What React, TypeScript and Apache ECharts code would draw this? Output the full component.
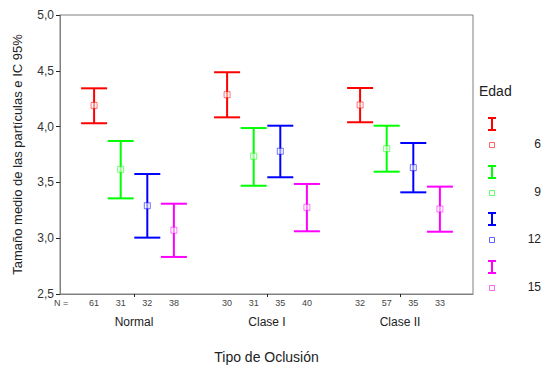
import React, { useEffect, useRef } from "react";
import * as echarts from "echarts";

const categories = ["Normal", "Clase I", "Clase II"];
const ages = ["6", "9", "12", "15"];
const colors = ["#ff0000", "#00ff00", "#0000ff", "#ff00ff"];
const offsets = [-0.3, -0.1, 0.1, 0.3];

// per age: values for [Normal, Clase I, Clase II]
const lower = [
  [4.03, 4.083, 4.039],
  [3.357, 3.47, 3.596],
  [3.005, 3.546, 3.411],
  [2.832, 3.062, 3.058],
];
const upper = [
  [4.343, 4.487, 4.346],
  [3.871, 3.987, 4.008],
  [3.575, 4.008, 3.853],
  [3.309, 3.486, 3.462],
];
const means = [
  [4.19, 4.286, 4.194],
  [3.617, 3.734, 3.802],
  [3.291, 3.779, 3.632],
  [3.071, 3.277, 3.262],
];
const counts = [
  [61, 30, 32],
  [31, 31, 57],
  [32, 35, 35],
  [38, 40, 33],
];

const FONT = "Liberation Sans, Arial, sans-serif";

export default function App() {
  const ref = useRef<HTMLDivElement>(null);
  useEffect(() => {
    if (!ref.current) return;
    const chart = echarts.init(ref.current, undefined, { renderer: "svg" });

    const series = ages.map((age, ai) => ({
      type: "custom",
      name: age,
      clip: false,
      data: categories.map((_, ci) => [
        ci + 1 + offsets[ai],
        lower[ai][ci],
        upper[ai][ci],
        means[ai][ci],
        counts[ai][ci],
      ]),
      renderItem: (params: any, api: any) => {
        const x = api.value(0);
        const pTop = api.coord([x, api.value(2)]);
        const pBot = api.coord([x, api.value(1)]);
        const pM = api.coord([x, api.value(3)]);
        const yBase = api.coord([x, 2.5])[1];
        const c = colors[ai];
        const hw = 13;
        return {
          type: "group",
          children: [
            { type: "line", shape: { x1: pTop[0], y1: pTop[1], x2: pBot[0], y2: pBot[1] }, style: { stroke: c, lineWidth: 2 } },
            { type: "line", shape: { x1: pTop[0] - hw, y1: pTop[1], x2: pTop[0] + hw, y2: pTop[1] }, style: { stroke: c, lineWidth: 2 } },
            { type: "line", shape: { x1: pBot[0] - hw, y1: pBot[1], x2: pBot[0] + hw, y2: pBot[1] }, style: { stroke: c, lineWidth: 2 } },
            { type: "rect", shape: { x: pM[0] - 3, y: pM[1] - 3, width: 6, height: 6 }, style: { fill: "#ffffff", stroke: c, lineWidth: 1, opacity: 0.55 } },
            { type: "text", x: pTop[0], y: yBase + 8.5, style: { text: String(api.value(4)), align: "center", verticalAlign: "middle", fontSize: 9, fill: "#444", fontFamily: FONT } },
          ],
        };
      },
    }));

    const legendTop = [118, 166, 213, 261];
    const legendGraphics: any[] = [
      { type: "text", left: 479, top: 84, style: { text: "Edad", fontSize: 14, fill: "#222", fontFamily: FONT } },
    ];
    ages.forEach((age, i) => {
      const y = legendTop[i];
      const c = colors[i];
      legendGraphics.push(
        { type: "line", shape: { x1: 492, y1: y, x2: 492, y2: y + 12 }, style: { stroke: c, lineWidth: 2 } },
        { type: "line", shape: { x1: 488, y1: y, x2: 496, y2: y }, style: { stroke: c, lineWidth: 2 } },
        { type: "line", shape: { x1: 488, y1: y + 12, x2: 496, y2: y + 12 }, style: { stroke: c, lineWidth: 2 } },
        { type: "rect", shape: { x: 489.5, y: y + 24.5, width: 5, height: 5 }, style: { fill: "#fff", stroke: c, lineWidth: 1, opacity: 0.6 } },
        { type: "text", x: 541, y: y + 26, style: { text: age, align: "right", verticalAlign: "middle", fontSize: 12, fill: "#222", fontFamily: FONT } }
      );
    });
    legendGraphics.push({ type: "text", x: 61, y: 302.5, style: { text: "N =", align: "center", verticalAlign: "middle", fontSize: 9, fill: "#444", fontFamily: FONT } });

    chart.setOption({
      animation: false,
      textStyle: { fontFamily: FONT },
      grid: { left: 60, top: 15, right: 71, bottom: 72, show: true, borderColor: "#808080", borderWidth: 1, outerBoundsMode: "none", containLabel: false },
      xAxis: {
        type: "value",
        min: 1 - 74 / 133,
        max: 3 + 73 / 133,
        name: "Tipo de Oclusión",
        nameLocation: "middle",
        nameGap: 56,
        nameTextStyle: { fontSize: 14, color: "#222", fontFamily: FONT },
        axisLine: { lineStyle: { color: "#808080" } },
        axisTick: { show: true, length: 3, customValues: [1, 2, 3], lineStyle: { color: "#222" } },
        axisLabel: {
          customValues: [1, 2, 3],
          margin: 22,
          fontSize: 12,
          color: "#222",
          formatter: (v: number) => categories[Math.round(v) - 1] ?? "",
        },
        splitLine: { show: false },
      },
      yAxis: {
        type: "value",
        min: 2.5,
        max: 5,
        interval: 0.5,
        name: "Tamaño medio de las partículas e IC 95%",
        nameLocation: "middle",
        nameGap: 36,
        nameTextStyle: { fontSize: 13, color: "#222", fontFamily: FONT },
        axisLine: { show: true, lineStyle: { color: "#808080" } },
        axisTick: { show: true, length: 4, lineStyle: { color: "#222" } },
        axisLabel: {
          fontSize: 12,
          color: "#333",
          margin: 6,
          formatter: (v: number) => v.toFixed(1).replace(".", ","),
        },
        splitLine: { show: false },
      },
      graphic: legendGraphics,
      series,
    });
    return () => chart.dispose();
  }, []);
  return <div ref={ref} style={{ width: 544, height: 366, position: "absolute", left: 0, top: 0 }} />;
}
